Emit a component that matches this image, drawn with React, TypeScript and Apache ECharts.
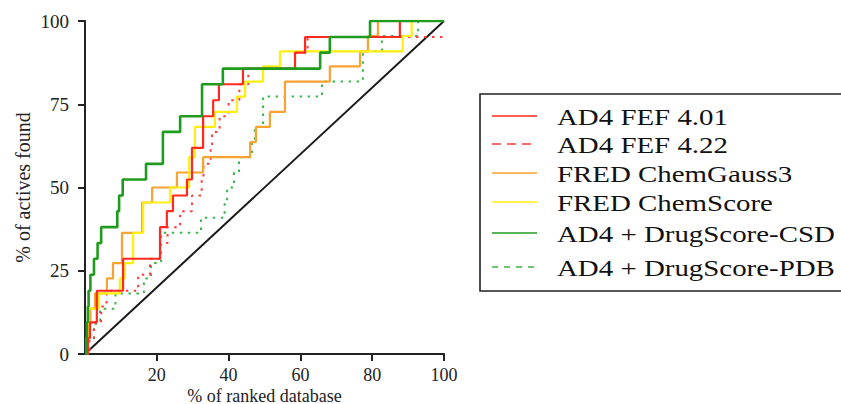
import React, { useEffect, useRef } from "react";
import * as echarts from "echarts";

// ---------- data (percent of ranked database, percent of actives found) ----------
const seriesNames = [
  "AD4 FEF 4.01",
  "AD4 FEF 4.22",
  "FRED ChemGauss3",
  "FRED ChemScore",
  "AD4 + DrugScore-CSD",
  "AD4 + DrugScore-PDB",
];

const fef401X = [0, 0.8, 1.4, 3.3, 10.6, 20.9, 22.8, 24.5, 28.4, 29.8, 32.9, 35.7, 37.3, 44.0, 58.5, 61.3, 87.7, 100];
const fef401Y = [0, 4.8, 9.5, 19.0, 28.6, 38.1, 42.9, 47.6, 52.4, 61.9, 71.4, 76.2, 81.0, 85.7, 90.5, 95.2, 100, 100];

const fef422X = [0, 1.2, 2.5, 4.5, 6.0, 14.8, 18.1, 20.9, 23.0, 26.5, 29.8, 32.5, 33.0, 35.0, 35.4, 37.5, 40.0, 43.0, 45.5, 58.5, 62.0, 100];
const fef422Y = [0, 4.8, 9.5, 14.3, 19.0, 23.8, 28.6, 33.3, 38.1, 42.9, 47.6, 52.4, 57.1, 61.9, 66.7, 71.4, 76.2, 81.0, 85.7, 90.5, 95.2, 95.2];

const gaussX = [0, 0.8, 1.5, 2.8, 6.1, 7.8, 10.3, 15.9, 18.7, 25.6, 32.9, 46.0, 47.6, 51.5, 55.7, 68.2, 76.6, 78.8, 81.6, 100];
const gaussY = [0, 9.1, 13.6, 18.2, 22.7, 27.3, 36.4, 45.5, 50.0, 54.5, 59.1, 63.6, 68.2, 72.7, 81.8, 86.4, 90.9, 95.5, 100, 100];

const chemScoreX = [0, 0.6, 0.9, 3.9, 9.7, 11.1, 13.4, 16.2, 23.7, 29.0, 30.6, 36.2, 42.3, 44.6, 49.6, 54.3, 88.5, 91.0, 100];
const chemScoreY = [0, 9.1, 13.6, 18.2, 22.7, 27.3, 36.4, 45.5, 50.0, 59.1, 68.2, 72.7, 77.3, 81.8, 86.4, 90.9, 95.5, 100, 100];

const csdX = [0, 0.3, 0.5, 0.8, 1.0, 1.5, 2.5, 3.5, 4.5, 9.0, 9.5, 10.5, 17.0, 21.7, 26.5, 32.6, 38.4, 65.5, 68.2, 79.4, 100];
const csdY = [0, 4.8, 9.5, 14.3, 19.0, 23.8, 28.6, 33.3, 38.1, 42.9, 47.6, 52.4, 57.1, 66.7, 71.4, 81.0, 85.7, 90.5, 95.2, 100, 100];

const pdbX = [0, 1.2, 2.5, 4.2, 8.5, 16.4, 18.4, 21.2, 32.3, 38.9, 39.6, 41.5, 42.9, 46.5, 47.3, 49.6, 66.0, 77.4, 82.7, 92.8, 100];
const pdbY = [0, 4.5, 9.1, 13.6, 18.2, 22.7, 27.3, 36.4, 40.9, 45.5, 50.0, 54.5, 59.1, 63.6, 68.2, 77.3, 81.8, 90.9, 95.5, 100, 100];

const randomX = [0, 100];
const randomY = [0, 100];

const xTickLabels = ["20", "40", "60", "80", "100"];
const yTickLabels = ["0", "25", "50", "75", "100"];

// ---------- styles ----------
const colors = ["#ff2a1f", "#ff3b3b", "#f8a232", "#ffee11", "#1f9c1f", "#3cb54a"];
const dashed = [false, true, false, false, false, true];
const widths = [2.2, 2, 2.2, 2.2, 2.6, 2];

const zip = (xs: number[], ys: number[]) => xs.map((x, i) => [x, ys[i]]);

export default function App() {
  const ref = useRef<HTMLDivElement>(null);

  useEffect(() => {
    if (!ref.current) return;
    const chart = echarts.init(ref.current, undefined, { renderer: "svg" });
    const font = "'Liberation Serif', 'Times New Roman', serif";
    const dataSets = [
      zip(fef401X, fef401Y),
      zip(fef422X, fef422Y),
      zip(gaussX, gaussY),
      zip(chemScoreX, chemScoreY),
      zip(csdX, csdY),
      zip(pdbX, pdbY),
    ];
    const zOrder = [5, 3, 4, 4, 6, 2];

    const stepSeries = seriesNames.map((name, i) => ({
      name,
      type: "line",
      step: "end",
      data: dataSets[i],
      showSymbol: false,
      symbol: "none",
      z: zOrder[i],
      lineStyle: {
        color: colors[i],
        width: widths[i],
        type: dashed[i] ? [2.5, 5.5] : "solid",
        cap: "butt",
      },
      itemStyle: { color: colors[i] },
    }));

    const legendTop = [117, 145, 174, 203, 234, 268];
    const legendEls: any[] = [
      {
        type: "rect",
        shape: { x: 480, y: 94, width: 380, height: 197 },
        style: { fill: "#fff", stroke: "#222", lineWidth: 1.6 },
        z: 10,
      },
    ];
    seriesNames.forEach((name, i) => {
      const y = legendTop[i] - 1;
      legendEls.push({
        type: "line",
        shape: { x1: 492, y1: y, x2: 537, y2: y },
        style: {
          stroke: colors[i],
          lineWidth: 1.6,
          lineDash: dashed[i] ? (i === 1 ? [9, 6] : [6, 6]) : null,
        },
        z: 11,
      });
      legendEls.push({
        type: "text",
        x: 557,
        y: legendTop[i],
        scaleX: 1.23,
        style: {
          text: name,
          fontFamily: font,
          fontSize: 23.5,
          fill: "#111",
          textVerticalAlign: "middle",
          verticalAlign: "middle",
        },
        z: 11,
      });
    });

    chart.setOption({
      animation: false,
      backgroundColor: "#fff",
      grid: { left: 85, right: 397, top: 21, bottom: 50, containLabel: false, outerBoundsMode: "none" },
      xAxis: {
        type: "value",
        min: 0,
        max: 100,
        interval: 20,
        name: "% of ranked database",
        nameLocation: "middle",
        nameGap: 34,
        nameMoveOverlap: false,
        nameTextStyle: { fontFamily: font, fontSize: 18, lineHeight: 15, color: "#222" },
        axisLine: { show: true, lineStyle: { color: "#222", width: 2 } },
        axisTick: { show: true, length: 7, lineStyle: { color: "#222", width: 2 } },
        axisLabel: {
          fontFamily: font,
          fontSize: 18,
          lineHeight: 14,
          color: "#222",
          margin: 14,
          showMinLabel: false,
          formatter: (v: number) => {
            const idx = Math.round(v / 20) - 1;
            return idx >= 0 ? xTickLabels[idx] : "";
          },
        },
        splitLine: { show: false },
      },
      yAxis: {
        type: "value",
        min: 0,
        max: 100,
        interval: 25,
        name: "% of actives found",
        nameLocation: "middle",
        nameGap: 52,
        nameMoveOverlap: false,
        nameTextStyle: { fontFamily: font, fontSize: 20, lineHeight: 20, color: "#222" },
        axisLine: { show: true, lineStyle: { color: "#222", width: 2 } },
        axisTick: { show: true, length: 7, lineStyle: { color: "#222", width: 2 } },
        axisLabel: {
          fontFamily: font,
          fontSize: 19,
          color: "#222",
          margin: 16,
          formatter: (v: number) => yTickLabels[Math.round(v / 25)],
        },
        splitLine: { show: false },
      },
      series: [
        {
          name: "random",
          type: "line",
          data: zip(randomX, randomY),
          showSymbol: false,
          symbol: "none",
          z: 1,
          lineStyle: { color: "#1a1a1a", width: 2 },
        },
        ...stepSeries,
      ],
      graphic: legendEls,
    });

    return () => chart.dispose();
  }, []);

  return (
    <div
      ref={ref}
      style={{ position: "absolute", left: 0, top: 0, width: 841, height: 404, background: "#fff" }}
    />
  );
}
